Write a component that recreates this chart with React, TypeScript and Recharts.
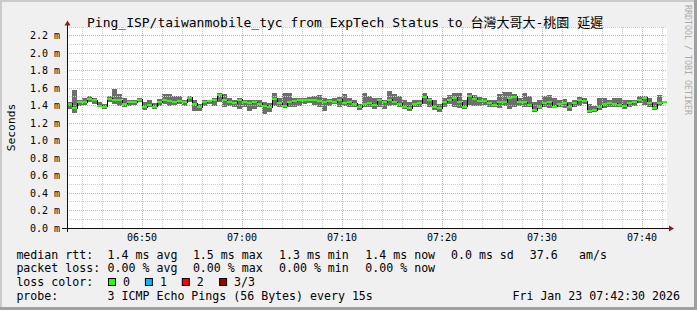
import { ComposedChart, Area, Line, Scatter, ErrorBar, XAxis, YAxis, CartesianGrid, ReferenceLine } from 'recharts';

const MONO = "'DejaVu Sans Mono', 'Noto Sans CJK TC', monospace";

// time in seconds since midnight, one sample every 30 s
const START = 6 * 3600 + 42 * 60 + 30; // 06:42:30
const END = START + 3600; // 07:42:30
const STEP = 30;

// rtt in milliseconds
const median = [
  1.42, 1.37, 1.44, 1.44, 1.48, 1.46, 1.40, 1.39, 1.48, 1.47,
  1.46, 1.42, 1.44, 1.44, 1.47, 1.38, 1.41, 1.39, 1.44, 1.46,
  1.45, 1.44, 1.45, 1.44, 1.49, 1.42, 1.38, 1.44, 1.45, 1.46,
  1.52, 1.46, 1.44, 1.43, 1.47, 1.44, 1.43, 1.44, 1.42, 1.40,
  1.38, 1.48, 1.43, 1.40, 1.44, 1.45, 1.46, 1.47, 1.46, 1.46,
  1.45, 1.44, 1.45, 1.44, 1.47, 1.43, 1.44, 1.42, 1.38, 1.42,
  1.43, 1.41, 1.46, 1.44, 1.47, 1.44, 1.42, 1.39, 1.37, 1.42,
  1.43, 1.50, 1.46, 1.39, 1.37, 1.44, 1.46, 1.49, 1.44, 1.39,
  1.51, 1.48, 1.45, 1.45, 1.43, 1.41, 1.44, 1.44, 1.49, 1.50,
  1.44, 1.44, 1.41, 1.35, 1.39, 1.43, 1.44, 1.39, 1.42, 1.43,
  1.39, 1.43, 1.47, 1.45, 1.34, 1.35, 1.38, 1.42, 1.43, 1.42,
  1.41, 1.40, 1.43, 1.44, 1.47, 1.49, 1.43, 1.37, 1.43, 1.44,
];

const maxRtt = [
  1.44, 1.58, 1.47, 1.49, 1.51, 1.49, 1.44, 1.42, 1.51, 1.59,
  1.53, 1.49, 1.47, 1.47, 1.49, 1.44, 1.46, 1.43, 1.48, 1.53,
  1.53, 1.51, 1.51, 1.47, 1.51, 1.46, 1.42, 1.47, 1.47, 1.49,
  1.55, 1.53, 1.49, 1.47, 1.49, 1.47, 1.47, 1.47, 1.46, 1.44,
  1.43, 1.54, 1.49, 1.54, 1.55, 1.49, 1.49, 1.49, 1.50, 1.51,
  1.52, 1.49, 1.48, 1.49, 1.50, 1.53, 1.49, 1.47, 1.42, 1.54,
  1.51, 1.49, 1.49, 1.47, 1.57, 1.53, 1.51, 1.46, 1.44, 1.47,
  1.47, 1.55, 1.49, 1.46, 1.42, 1.49, 1.52, 1.54, 1.55, 1.47,
  1.54, 1.52, 1.50, 1.49, 1.47, 1.47, 1.53, 1.56, 1.56, 1.53,
  1.49, 1.55, 1.51, 1.44, 1.46, 1.51, 1.52, 1.49, 1.47, 1.48,
  1.44, 1.47, 1.50, 1.49, 1.42, 1.40, 1.49, 1.49, 1.47, 1.49,
  1.49, 1.47, 1.47, 1.47, 1.51, 1.51, 1.49, 1.44, 1.52, 1.54,
];

const minRtt = [
  1.36, 1.32, 1.40, 1.41, 1.44, 1.42, 1.38, 1.36, 1.44, 1.42,
  1.40, 1.38, 1.40, 1.41, 1.44, 1.35, 1.38, 1.36, 1.40, 1.42,
  1.40, 1.41, 1.42, 1.40, 1.44, 1.34, 1.34, 1.40, 1.42, 1.40,
  1.44, 1.38, 1.40, 1.38, 1.36, 1.38, 1.34, 1.36, 1.38, 1.30,
  1.33, 1.40, 1.38, 1.37, 1.39, 1.38, 1.40, 1.42, 1.43, 1.41,
  1.38, 1.34, 1.40, 1.42, 1.38, 1.40, 1.38, 1.39, 1.35, 1.38,
  1.38, 1.36, 1.38, 1.36, 1.40, 1.41, 1.38, 1.36, 1.34, 1.38,
  1.39, 1.42, 1.38, 1.35, 1.33, 1.39, 1.42, 1.38, 1.37, 1.36,
  1.41, 1.40, 1.40, 1.41, 1.39, 1.38, 1.37, 1.40, 1.36, 1.38,
  1.40, 1.38, 1.38, 1.33, 1.36, 1.38, 1.37, 1.38, 1.38, 1.37,
  1.34, 1.38, 1.40, 1.42, 1.32, 1.33, 1.35, 1.37, 1.38, 1.38,
  1.38, 1.36, 1.38, 1.40, 1.43, 1.41, 1.38, 1.35, 1.40, 1.38,
];

const timeTicks = ['06:50', '07:00', '07:10', '07:20', '07:30', '07:40'];
const rttTicks = [0, 0.2, 0.4, 0.6, 0.8, 1.0, 1.2, 1.4, 1.6, 1.8, 2.0, 2.2];

const title = 'Ping_ISP/taiwanmobile_tyc from ExpTech Status to 台灣大哥大-桃園 延遲';
const yLabel = 'Seconds';
const watermark = 'RRDTOOL / TOBI OETIKER';
const rttRow = ['median rtt:', '1.4 ms avg', '1.5 ms max', '1.3 ms min', '1.4 ms now', '0.0 ms sd', '37.6', 'am/s'];
const lossRow = ['packet loss:', '0.00 % avg', '0.00 % max', '0.00 % min', '0.00 % now'];
const lossColorLabel = 'loss color:';
const lossLevels = ['0', '1', '2', '3/3'];
const probeRow = ['probe:', '3 ICMP Echo Pings (56 Bytes) every 15s'];
const stamp = 'Fri Jan 23 07:42:30 2026';

// layout / styling
const lossColors = ['#26ff00', '#00b8ff', '#ff0000', '#a10000'];
const colX = [16.4, 107.6, 192.9, 279, 365.3, 451, 529.8, 579];
const boxX = [108, 144.9, 181.8, 219.1];
const rowY = [258.5, 272.2, 285.9, 299.6];

const toSec = (hm: string) => {
  const [h, m] = hm.split(':').map(Number);
  return h * 3600 + m * 60;
};
const fmtTime = (s: number) => {
  const h = Math.floor(s / 3600);
  const m = Math.floor((s % 3600) / 60);
  return `${String(h).padStart(2, '0')}:${String(m).padStart(2, '0')}`;
};

const rows = median.map((m, i) => ({
  t: START + i * STEP,
  median: m,
  smoke: [minRtt[i], maxRtt[i]],
  span: [0, STEP],
}));

const minorY: number[] = [];
const majorY: number[] = [];
for (let k = 1; k <= 23; k++) (k % 2 === 0 ? majorY : minorY).push(k / 10);

const minorX: number[] = [];
const majorX: number[] = [];
for (let s = toSec('06:44'); s < END; s += 120) ((s / 60) % 10 === 0 ? majorX : minorX).push(s);

const MINOR = '#cdcdcd';
const MAJOR = '#eba3a3';
const ARROW = '#8e1c1c';

export default function App() {
  return (
    <div style={{ position: 'fixed', left: 0, top: 0, width: 697, height: 310, background: '#f0f0f0' }}>
      <ComposedChart
        width={697}
        height={310}
        data={rows}
        margin={{ top: 27, right: 30, bottom: 52, left: 7 }}
        style={{ position: 'absolute', left: 0, top: 0 }}
      >
        <CartesianGrid fill="#ffffff" fillOpacity={1} horizontal={false} vertical={false} />
        <XAxis
          dataKey="t"
          type="number"
          domain={[START, END]}
          allowDataOverflow
          ticks={timeTicks.map(toSec)}
          tickFormatter={fmtTime}
          interval={0}
          axisLine={false}
          tickLine={false}
          tickSize={4}
          tickMargin={2}
          height={30}
          tick={{ fontSize: 10, fontFamily: MONO, fill: '#000' }}
        />
        <YAxis
          type="number"
          domain={[0, 2.3]}
          allowDataOverflow
          ticks={rttTicks}
          tickFormatter={(v: number) => `${v.toFixed(1)} m`}
          interval={0}
          width={60}
          axisLine={false}
          tickLine={false}
          tickSize={5}
          tickMargin={2}
          tick={{ fontSize: 10, fontFamily: MONO, fill: '#000' }}
        />
        {minorY.map((v) => (
          <ReferenceLine key={`my${v}`} y={v} stroke={MINOR} strokeDasharray="1 1" shapeRendering="crispEdges" />
        ))}
        {minorX.map((v) => (
          <ReferenceLine key={`mx${v}`} x={v} stroke={MINOR} strokeDasharray="1 1" shapeRendering="crispEdges" />
        ))}
        {majorY.map((v) => (
          <ReferenceLine key={`My${v}`} y={v} stroke={MAJOR} strokeDasharray="1 1" shapeRendering="crispEdges" />
        ))}
        {majorX.map((v) => (
          <ReferenceLine key={`Mx${v}`} x={v} stroke={MAJOR} strokeDasharray="1 1" shapeRendering="crispEdges" />
        ))}
        <Area
          dataKey="smoke"
          type="stepAfter"
          fill="#6e6e6e"
          fillOpacity={1}
          stroke="none"
          shapeRendering="crispEdges"
          isAnimationActive={false}
        />
        <Line
          dataKey="median"
          type="stepAfter"
          stroke="#000"
          strokeWidth={1}
          dot={false}
          shapeRendering="crispEdges"
          isAnimationActive={false}
        />
        <Scatter dataKey="median" shape={() => <g />} isAnimationActive={false}>
          <ErrorBar
            dataKey="span"
            direction="x"
            width={0}
            stroke={lossColors[0]}
            strokeWidth={2}
            shapeRendering="crispEdges"
            isAnimationActive={false}
          />
        </Scatter>
      </ComposedChart>

      <svg width={697} height={310} style={{ position: 'absolute', left: 0, top: 0, pointerEvents: 'none' }}>
        {/* frame */}
        <rect x={0} y={0} width={697} height={2} fill="#cbcbcb" />
        <rect x={0} y={0} width={2} height={310} fill="#cbcbcb" />
        <rect x={694} y={0} width={3} height={310} fill="#a0a0a0" />
        <rect x={0} y={307} width={697} height={3} fill="#a0a0a0" />

        {/* axes */}
        <line x1={62} y1={228.5} x2={670} y2={228.5} stroke="#111" strokeWidth={1} />
        <line x1={67.5} y1={232} x2={67.5} y2={24} stroke="#111" strokeWidth={1} />
        <polygon points="669,225.5 669,231.5 674,228.5" fill={ARROW} />
        <polygon points="64.5,25.5 70.5,25.5 67.5,20.5" fill={ARROW} />

        <text x={87} y={26.5} fontFamily={MONO} fontSize={13} fill="#000">
          {title}
        </text>
        <text transform="translate(685,5) rotate(90)" fontFamily={MONO} fontSize={8.3} fill="#ababab">
          {watermark}
        </text>
        <text
          transform="translate(15,127.5) rotate(-90)"
          textAnchor="middle"
          fontFamily={MONO}
          fontSize={11.3}
          fill="#000"
        >
          {yLabel}
        </text>

        <g fontFamily={MONO} fontSize={11.6} fill="#000" style={{ whiteSpace: 'pre' }}>
          {rttRow.map((s, i) => (
            <text key={`r${i}`} x={colX[i]} y={rowY[0]}>
              {s}
            </text>
          ))}
          {lossRow.map((s, i) => (
            <text key={`l${i}`} x={colX[i]} y={rowY[1]}>
              {s}
            </text>
          ))}
          <text x={colX[0]} y={rowY[2]}>
            {lossColorLabel}
          </text>
          {lossLevels.map((s, i) => (
            <g key={`c${i}`}>
              <rect x={boxX[i] + 0.5} y={278.5} width={7} height={7} fill={lossColors[i]} stroke="#000" strokeWidth={1} />
              <text x={boxX[i] + 15} y={rowY[2]}>
                {s}
              </text>
            </g>
          ))}
          {probeRow.map((s, i) => (
            <text key={`p${i}`} x={colX[i]} y={rowY[3]}>
              {s}
            </text>
          ))}
          <text x={680} y={rowY[3]} textAnchor="end">
            {stamp}
          </text>
        </g>
      </svg>
    </div>
  );
}
